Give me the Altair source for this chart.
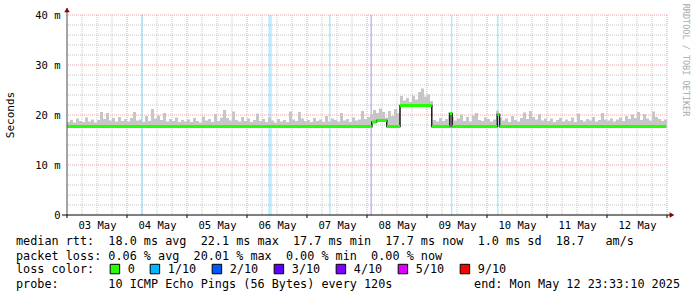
import altair as alt
import pandas as pd

# ---------------- data ----------------
day_labels = ["03 May", "04 May", "05 May", "06 May", "07 May",
              "08 May", "09 May", "10 May", "11 May", "12 May"]
y_ticks = [0, 10, 20, 30, 40]

# top of the grey "smoke" per 0.05-day column (ms)
smoke_top = [
    18.6, 19.0, 18.5, 19.3, 18.8, 18.6, 19.5, 18.7, 19.1, 18.5, 19.0, 20.6, 19.2, 20.4, 18.9, 19.4, 18.7, 19.6, 18.8, 19.2,
    18.7, 19.4, 20.6, 18.9, 19.1, 18.6, 19.8, 18.8, 21.2, 19.3, 19.9, 19.0, 20.4, 18.7, 19.2, 18.8, 19.5, 18.6, 19.0, 18.7,
    19.1, 18.6, 19.4, 18.8, 18.5, 19.7, 18.9, 19.2, 18.6, 20.2, 18.8, 19.5, 21.0, 19.4, 18.9, 20.7, 19.0, 18.7, 19.6, 18.8,
    19.3, 18.6, 19.0, 20.3, 18.8, 19.2, 18.6, 19.5, 18.9, 18.5, 19.2, 18.7, 19.0, 18.6, 20.7, 19.1, 18.8, 20.6, 19.3, 18.8,
    19.0, 18.6, 19.4, 18.8, 19.1, 18.6, 19.8, 18.7, 19.3, 19.0, 18.7, 20.4, 18.9, 19.2, 18.6, 19.5, 18.9, 19.1, 20.8, 19.2,
    19.6, 20.2, 21.0, 20.4, 21.3, 20.6, 19.5, 20.8, 19.8, 21.2, 20.4, 23.8, 22.9, 23.4, 22.6, 23.9, 23.1, 24.6, 25.3, 23.7,
    24.1, 22.8, 19.0, 18.7, 19.4, 18.8, 19.2, 20.5, 19.6, 18.9, 19.3, 20.1, 18.8, 19.6, 18.7, 19.9, 20.4, 19.0, 18.8, 19.5,
    19.2, 18.7, 19.1, 20.9, 19.4, 18.9, 19.3, 18.6, 19.8, 19.0, 18.7, 19.4, 20.5, 19.2, 20.8, 19.6, 19.1, 20.2, 18.9, 19.3,
    18.8, 19.3, 18.6, 19.0, 19.4, 18.7, 19.1, 18.8, 19.5, 18.6, 20.3, 19.0, 18.7, 19.2, 18.9, 19.6, 18.7, 19.0, 20.4, 19.1,
    18.9, 19.3, 18.7, 19.1, 19.5, 18.8, 19.8, 19.2, 20.1, 19.4, 20.6, 19.0, 20.2, 19.3, 18.9, 20.7, 19.6, 19.2, 18.8, 19.1,
]
smoke_step = 0.05  # days per smoke column

# median rtt, as steps (days since 03 May 00:00, ms)
median_start = [0.00, 5.08, 5.16, 5.33, 5.55, 6.08, 6.38, 6.42, 7.17, 7.21]
median_end = [5.08, 5.16, 5.33, 5.55, 6.08, 6.38, 6.42, 7.17, 7.21, 9.98]
median_ms = [17.7, 18.6, 18.9, 17.7, 21.9, 17.7, 20.3, 17.7, 20.1, 17.7]

# packet-loss background lines
loss_day = [1.25, 3.37, 3.40, 4.38, 5.07, 6.41, 7.18]
loss_cat = ["1/10", "1/10", "1/10", "1/10", "3/10", "1/10", "1/10"]

loss_levels = ["0", "1/10", "2/10", "3/10", "4/10", "5/10", "9/10"]
loss_colors = ["#26ff00", "#00b8ff", "#0059ff", "#5e00ff", "#7e00ff", "#dd00ff", "#ff0000"]

line_rtt = "median rtt:  18.0 ms avg  22.1 ms max  17.7 ms min  17.7 ms now  1.0 ms sd  18.7   am/s"
line_loss = "packet loss: 0.06 % avg  20.01 % max  0.00 % min  0.00 % now"
legend_title = "loss color:"
line_probe = "probe:       10 ICMP Echo Pings (56 Bytes) every 120s"
line_end = "end: Mon May 12 23:33:10 2025"
y_title = "Seconds"
watermark = "RRDTOOL / TOBI OETIKER"

# ---------------- helpers ----------------
MONO = "DejaVu Sans Mono"
NB = "\u00a0"
FS = 11.8


def keep_spaces(s):
    return s.replace(" ", NB)


def median_at(d):
    for s, e, v in zip(median_start, median_end, median_ms):
        if s <= d < e:
            return v
    return median_ms[-1]


xs = alt.Scale(domain=[0, 10], nice=False, zero=False)
ys = alt.Scale(domain=[0, 40], nice=False, zero=True)

label_list = "[" + ",".join("'" + d + "'" for d in day_labels) + "]"
x_axis = alt.Axis(values=[i + 0.5 for i in range(len(day_labels))],
                  labelExpr=label_list + "[floor(datum.value)]",
                  ticks=False, domain=False, grid=False, title=None,
                  labelFont=MONO, labelFontSize=10.5, labelColor="#000000",
                  labelPadding=5)
y_axis = alt.Axis(values=y_ticks,
                  labelExpr="datum.value == 0 ? '0' : datum.value + '" + NB + "m'",
                  ticks=False, domain=False, grid=False, title=None,
                  labelFont=MONO, labelFontSize=10.5, labelColor="#000000",
                  labelPadding=7)


def X(f):
    return alt.X(f, type="quantitative", scale=xs, axis=x_axis)


def Y(f):
    return alt.Y(f, type="quantitative", scale=ys, axis=y_axis)


# ---------------- tables ----------------
minor_x = pd.DataFrame({"d": [i * 0.25 for i in range(41) if i % 4 != 0]})
major_x = pd.DataFrame({"d": [float(i) for i in range(1, 11)]})
minor_y = pd.DataFrame({"v": [float(v) for v in range(2, 41, 2) if v % 10 != 0]})
major_y = pd.DataFrame({"v": [10.0, 20.0, 30.0, 40.0]})
tick_x = pd.DataFrame({"d": [float(i) for i in range(0, 11)]})

smoke_df = pd.DataFrame({
    "a": [i * smoke_step for i in range(len(smoke_top))],
    "b": [(i + 1) * smoke_step for i in range(len(smoke_top))],
    "top": smoke_top,
})
smoke_df["low"] = [median_at(a + smoke_step / 2) - 0.3 for a in smoke_df["a"]]

med_df = pd.DataFrame({"a": median_start, "b": median_end, "ms": median_ms})
step_df = pd.DataFrame({"d": median_start + [median_end[-1]],
                        "ms": median_ms + [median_ms[-1]]})
loss_df = pd.DataFrame({"d": loss_day, "loss": loss_cat})

color_enc = alt.Color(
    "loss:N",
    scale=alt.Scale(domain=loss_levels, range=loss_colors),
    legend=alt.Legend(
        title=legend_title, orient="none", legendX=-51, legendY=248,
        direction="horizontal", titleOrient="left",
        titleFont=MONO, titleFontSize=FS, titleFontWeight="normal",
        titleColor="#000000", titlePadding=14,
        labelFont=MONO, labelFontSize=FS, labelColor="#000000", labelOffset=7,
        symbolType="square", symbolSize=90, symbolStrokeColor="#000000",
        symbolStrokeWidth=1, symbolOpacity=1, columnPadding=13, padding=0,
    ),
)

dash = [1, 1]
g_minor_x = alt.Chart(minor_x).mark_rule(color="#c4c4c4", strokeDash=dash, strokeWidth=1).encode(x=X("d"))
g_major_x = alt.Chart(major_x).mark_rule(color="#e3a3a3", strokeDash=dash, strokeWidth=1).encode(x=X("d"))
g_minor_y = alt.Chart(minor_y).mark_rule(color="#c4c4c4", strokeDash=dash, strokeWidth=1).encode(y=Y("v"))
g_major_y = alt.Chart(major_y).mark_rule(color="#e3a3a3", strokeDash=dash, strokeWidth=1).encode(y=Y("v"))

loss_lines = alt.Chart(loss_df).mark_rect(width=1.5, opacity=0.3).encode(x=X("d"), color=color_enc)

smoke = alt.Chart(smoke_df).mark_rect(color="#c6c6c6").encode(
    x=X("a"), x2="b", y=Y("low"), y2="top")

step_line = alt.Chart(step_df).mark_line(interpolate="step-after", color="#1a1a1a",
                                         strokeWidth=1.5).encode(x=X("d"), y=Y("ms"))
median = alt.Chart(med_df).mark_rule(color="#22ff00", strokeWidth=3).encode(
    x=X("a"), x2="b", y=Y("ms"))

one = pd.DataFrame({"k": [0]})
y_axis_line = alt.Chart(one).mark_rule(color="#4d4d4d", strokeWidth=1).encode(
    x=alt.value(0), y=alt.value(-7), y2=alt.value(200))
x_axis_line = alt.Chart(one).mark_rule(color="#000000", strokeWidth=1).encode(
    x=alt.value(-5), x2=alt.value(604), y=alt.value(200))
ticks = alt.Chart(tick_x).mark_rule(color="#000000", strokeWidth=1).encode(
    x=X("d"), y=alt.value(200), y2=alt.value(203))
arrow_up = alt.Chart(one).mark_point(shape="triangle-up", filled=True, color="#8b0000",
                                     size=30, opacity=1).encode(x=alt.value(0), y=alt.value(-5))
arrow_right = alt.Chart(one).mark_point(shape="triangle-right", filled=True, color="#8b0000",
                                        size=30, opacity=1).encode(x=alt.value(605), y=alt.value(200))


def text_layer(s, x, y, size=FS, align="left", angle=0, color="#000000"):
    df = pd.DataFrame({"t": [keep_spaces(s)]})
    props = dict(font=MONO, fontSize=size, align=align, baseline="middle", color=color)
    if angle:
        props["angle"] = angle
    return alt.Chart(df).mark_text(**props).encode(
        x=alt.value(x), y=alt.value(y), text="t:N")


texts = [
    text_layer(line_rtt, -51, 226),
    text_layer(line_loss, -51, 241),
    text_layer(line_probe, -51, 269),
    text_layer(line_end, 613, 269, align="right"),
    text_layer(y_title, -56, 100, size=11, align="center", angle=270),
    text_layer(watermark, 619, 45, size=8.5, align="center", angle=90, color="#aaaaaa"),
]

chart = alt.layer(
    g_minor_x, g_minor_y, g_major_x, g_major_y,
    loss_lines, smoke, step_line, median,
    y_axis_line, x_axis_line, ticks, arrow_up, arrow_right,
    *texts,
).properties(
    width=600, height=200,
    padding={"left": 67, "top": 15, "right": 30, "bottom": 82},
    autosize=alt.AutoSizeParams(type="none"),
    background="white",
).configure_view(stroke=None)

chart.save("out.html", embed_options={"renderer": "svg", "actions": False})
